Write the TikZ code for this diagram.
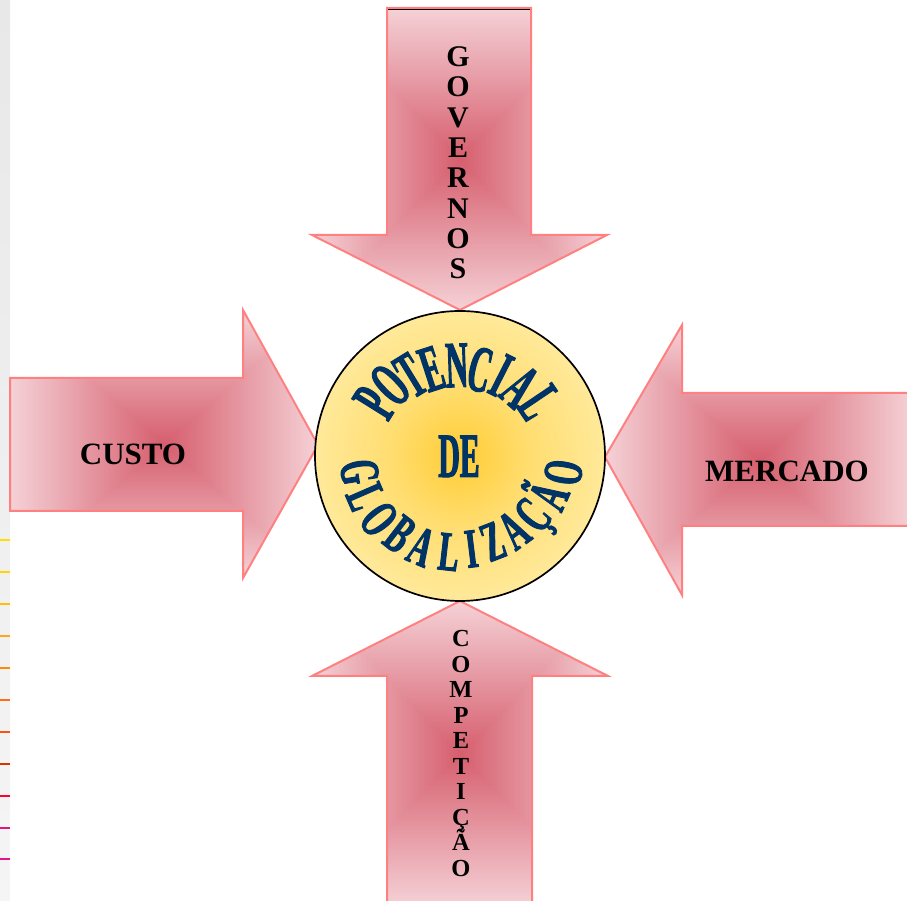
\documentclass[tikz,border=0pt]{standalone}
\usepackage{fontspec}
\setmainfont{Liberation Serif}
\newfontfamily\archfont[FakeStretch=0.47, FakeBold=1.6, UprightFont=* Bold]{Liberation Serif}
\newfontfamily\archfontwide[FakeStretch=0.55, FakeBold=1.6, UprightFont=* Bold]{Liberation Serif}
\usetikzlibrary{calc}
\def\tightlines{\lineskiplimit-100pt\relax}

\definecolor{globblue}{RGB}{0,51,102}
\definecolor{globgold}{RGB}{255,204,51}
\definecolor{globmid}{RGB}{255,221,112}
\definecolor{globpale}{RGB}{255,233,154}
\definecolor{arrowedge}{RGB}{255,128,128}

\pgfdeclareradialshading{globglow}{\pgfpoint{0bp}{0bp}}{color(0bp)=(globgold); color(12bp)=(globmid); color(25bp)=(globpale); color(50bp)=(globpale)}
\pgfdeclarefunctionalshading{arrowglow}{\pgfpointorigin}{\pgfpoint{100bp}{100bp}}{}{
  50 sub abs exch 50 sub abs
  2 copy lt {exch} if pop
  25 div dup 1 gt {pop 1} if
  dup dup
  0.12 mul 0.84 add
  3 1 roll
  0.45 mul 0.37 add
  exch
  0.41 mul 0.43 add
}

\tikzset{
  arrowbody/.style={shading=arrowglow, draw=arrowedge, line width=2pt, line join=miter},
  globe/.style={circle, minimum size=290pt, inner sep=0pt, draw=black, line width=1.7pt, shade, shading=globglow},
  toparc/.style={inner sep=0pt, anchor=base, text=globblue, font=\archfont\fontsize{66}{66}\selectfont},
  botarc/.style={inner sep=0pt, anchor=base, text=globblue, font=\archfontwide\fontsize{56}{56}\selectfont},
  sidelabel/.style={inner sep=0pt, font=\bfseries\fontsize{31}{31}\selectfont},
  upright/.style={inner sep=0pt, anchor=north, align=center}
}

\begin{document}
\begin{tikzpicture}[x=1pt, y=1pt]
		%%%%% START %%%%%
		\useasboundingbox (0,0) rectangle (907,901);
		
		\shade[top color=black!9, bottom color=black!4] (0,0) rectangle (10,901);
		
		\draw[line width=2.2pt, color={rgb,255:red,255;green,222;blue,0}] (0,361) -- (10,361);
		\draw[line width=2.2pt, color={rgb,255:red,255;green,214;blue,0}] (0,329) -- (10,329);
		\draw[line width=2.2pt, color={rgb,255:red,255;green,192;blue,0}] (0,297) -- (10,297);
		\draw[line width=2.2pt, color={rgb,255:red,255;green,165;blue,30}] (0,265) -- (10,265);
		\draw[line width=2.2pt, color={rgb,255:red,255;green,140;blue,0}] (0,233) -- (10,233);
		\draw[line width=2.2pt, color={rgb,255:red,255;green,110;blue,20}] (0,201) -- (10,201);
		\draw[line width=2.2pt, color={rgb,255:red,255;green,80;blue,20}] (0,169) -- (10,169);
		\draw[line width=2.2pt, color={rgb,255:red,220;green,50;blue,0}] (0,137) -- (10,137);
		\draw[line width=2.2pt, color={rgb,255:red,255;green,0;blue,51}] (0,105) -- (10,105);
		\draw[line width=2.2pt, color={rgb,255:red,230;green,20;blue,120}] (0,73) -- (10,73);
		\draw[line width=2.2pt, color={rgb,255:red,230;green,20;blue,140}] (0,42) -- (10,42);
		
		% the four arrows
		\shadedraw[arrowbody] (387,893) -- (531,893) -- (531,666) -- (607,666) -- (460,591) -- (312,666) -- (387,666) -- cycle;
		\draw[line width=0.8pt, color=black] (388,891.5) -- (530,891.5);
		\shadedraw[arrowbody] (387,-5) -- (387,225) -- (312,225) -- (460,300) -- (608,225) -- (532,225) -- (532,-5) -- cycle;
		\shadedraw[arrowbody] (10,523) -- (243,523) -- (243,591) -- (318,456) -- (243,323) -- (243,390) -- (10,390) -- cycle;
		\shadedraw[arrowbody] (912,508) -- (682,508) -- (682,576) -- (605,444) -- (682,306) -- (682,375) -- (912,375) -- cycle;
		
		\node[upright, font=\bfseries\fontsize{30}{30.3}\selectfont\tightlines] (governos) at (458,854.5) {G\\O\\V\\E\\R\\N\\O\\S};
		\node[upright, font=\bfseries\fontsize{24.5}{25.5}\selectfont\tightlines] (competicao) at (461,270.5) {C\\O\\M\\P\\E\\T\\I\\Ç\\Ã\\O};
		\node[sidelabel] (custo) at (133,447) {CUSTO};
		\node[sidelabel] (mercado) at (787,430) {MERCADO};
		
		% the globe
		\node[globe] (glob) at (460,445) {};
		
		\node[toparc, rotate=58]   (pot1) at ($(glob)+(148:79)$) {P};
		\node[toparc, rotate=44.5] (pot2) at ($(glob)+(134.5:78)$) {O};
		\node[toparc, rotate=31.5] (pot3) at ($(glob)+(121.5:73)$) {T};
		\node[toparc, rotate=18]   (pot4) at ($(glob)+(108:70)$) {E};
		\node[toparc, rotate=2]    (pot5) at ($(glob)+(92:69)$) {N};
		\node[toparc, rotate=-13]  (pot6) at ($(glob)+(77:67)$) {C};
		\node[toparc, rotate=-27]  (pot7) at ($(glob)+(63:69)$) {I};
		\node[toparc, rotate=-41]  (pot8) at ($(glob)+(49:70)$) {A};
		\node[toparc, rotate=-56]  (pot9) at ($(glob)+(34:74)$) {L};
		
		\node[toparc, font=\archfont\fontsize{63}{63}\selectfont] (de) at (459,424) {DE};
		
		\node[botarc, rotate=-81]   (glo1) at ($(glob)+(189:120)$) {G};
		\node[botarc, rotate=-66.5] (glo2) at ($(glob)+(203.5:121)$) {L};
		\node[botarc, rotate=-52]   (glo3) at ($(glob)+(218:121)$) {O};
		\node[botarc, rotate=-37.5] (glo4) at ($(glob)+(232.5:117)$) {B};
		\node[botarc, rotate=-23]   (glo5) at ($(glob)+(247:117)$) {A};
		\node[botarc, rotate=-6.5]  (glo6) at ($(glob)+(263.5:115)$) {L};
		\node[botarc, rotate=7]     (glo7) at ($(glob)+(277:112)$) {I};
		\node[botarc, rotate=21]    (glo8) at ($(glob)+(291:110)$) {Z};
		\node[botarc, rotate=36]    (glo9) at ($(glob)+(306:110)$) {A};
		\node[botarc, rotate=51]    (glo10) at ($(glob)+(321:112)$) {Ç};
		\node[botarc, rotate=66]    (glo11) at ($(glob)+(336:116)$) {Ã};
		\node[botarc, rotate=81]    (glo12) at ($(glob)+(351:123)$) {O};
		
		%%%%% END %%%%%
	\end{tikzpicture}
\end{document}
